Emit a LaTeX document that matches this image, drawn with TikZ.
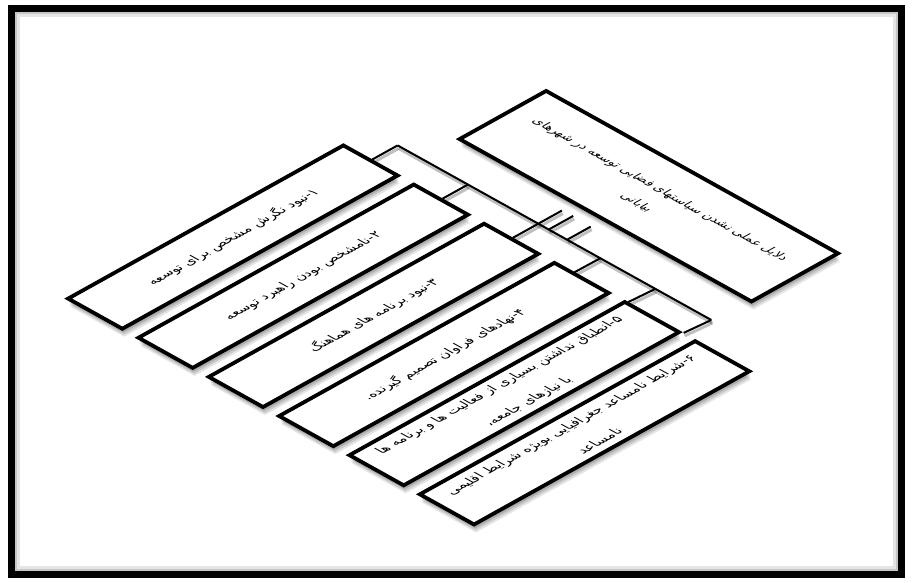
\documentclass[tikz,border=0pt]{standalone}
\usepackage{fontspec}
\usetikzlibrary{calc, shadows, backgrounds}
\newfontfamily\persianfont[Script=Arabic]{DejaVu Sans}
\TeXXeTstate=1

\tikzset{
    softshade/.style={
        general shadow={fill=black, opacity=0.16, shadow xshift=0.5pt, shadow yshift=-2pt},
        general shadow={fill=black, opacity=0.14, shadow xshift=1pt, shadow yshift=-4pt},
        general shadow={fill=black, opacity=0.12, shadow xshift=1.5pt, shadow yshift=-6pt},
        general shadow={fill=black, opacity=0.10, shadow xshift=2pt, shadow yshift=-8pt}
    },
    rootbox/.style={draw=black, line width=3.8pt, fill=white, softshade, transform shape,
        minimum width=334pt, minimum height=99pt, inner sep=4pt, align=center,
        font=\persianfont\fontsize{12.5}{27}\selectfont},
    causebox/.style={rootbox, rotate=90, minimum width=315pt, minimum height=62pt,
        font=\persianfont\fontsize{13.5}{33}\selectfont},
    link/.style={line width=2pt,
        preaction={draw=black, opacity=0.25, line width=3pt, transform canvas={shift={(1pt,-3pt)}}}}
}

\begin{document}
\begin{tikzpicture}[x=1pt, y=1pt]

    \useasboundingbox (0,0) rectangle (913,-583);

    % === Frame ===
    \draw[line width=7pt] (11.5,-8.5) rectangle (901.5,-574.5);
    \draw[gray!45, line width=2.5pt] (16.2,-13.2) rectangle (896.8,-569.8);
    \draw[gray!20, line width=3pt] (18.9,-15.9) rectangle (894.1,-567.1);

    \begin{scope}[cm={0.8738,-0.4863,0.8738,0.4863,(0pt,0pt)}]

        % === Root box ===
        \node[rootbox] (root) at (573,169.5)
            {\beginR دلایل عملی نشدن سیاستهای فضایی توسعه در شهرهای\endR\\\beginR بیابانی\endR};

        % === Cause boxes ===
        \node[causebox] (c1) at (377,-110.5) {\beginR ۱-نبود نگرش مشخص برای توسعه\endR};
        \node[causebox] (c2) at (457.5,-110.5) {\beginR ۲-نامشخص بودن راهبرد توسعه\endR};
        \node[causebox] (c3) at (538,-110.5) {\beginR ۳-نبود برنامه های هماهنگ\endR};
        \node[causebox] (c4) at (618.5,-110.5) {\beginR ۴-نهادهای فراوان تصمیم گیرنده.\endR};
        \node[causebox] (c5) at (699,-110.5)
            {\beginR ۵-انطباق نداشتن بسیاری از فعالیت ها و برنامه ها\endR\\\beginR با نیازهای جامعه،\endR};
        \node[causebox] (c6) at (779.5,-110.5)
            {\beginR ۶-شرایط نامساعد جغرافیایی بویژه شرایط اقلیمی\endR\\\beginR نامساعد\endR};

        % Bus points
        \coordinate (j1) at (377,78);
        \coordinate (j2) at (457.5,78);
        \coordinate (j3) at (538,78);
        \coordinate (j4) at (609,78);
        \coordinate (j5) at (672,78);
        \coordinate (j6) at (736,78);
        \coordinate (m2) at (550,78);
        \coordinate (m3) at (571,78);
        % Tick ends below root
        \coordinate (k1) at (538,105);
        \coordinate (k2) at (550,106);
        \coordinate (k3) at (571,105);

        % === Connectors ===
        \begin{scope}[on background layer]
            \draw[link] (j1) -- (j6);
            \draw[link] (j3) -- (k1);
            \draw[link] (m2) -- (k2);
            \draw[link] (m3) -- (k3);
            \draw[link] (j1) -- (c1.east);
            \draw[link] (j2) -- (c2.east);
            \draw[link] (j3) -- (c3.east);
            \draw[link] (j4) -- ($(c4.north east)!0.35!(c4.south east)$);
            \draw[link] (j5) -- ($(c5.north east)!0.06!(c5.south east)$);
            \draw[link] (j6) -- ($(c6.north east)!-0.2!(c6.south east)$);
        \end{scope}

    \end{scope}

\end{tikzpicture}
\end{document}
